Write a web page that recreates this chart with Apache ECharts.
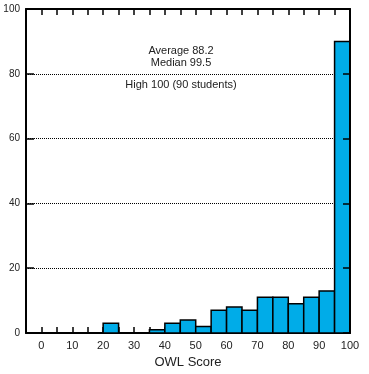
<!DOCTYPE html>
<html>
<head>
<meta charset="utf-8">
<script src="https://cdn.jsdelivr.net/npm/echarts@6/dist/echarts.min.js"></script>
<style>
html,body{margin:0;padding:0;background:#fff;}
#chart{width:369px;height:374px;}
</style>
</head>
<body>
<div id="chart"></div>
<script>
// Histogram bins (start of each 5-point bin) and student counts
var binStarts = [0,5,10,15,20,25,30,35,40,45,50,55,60,65,70,75,80,85,90,95];
var binWidth = 5;
var counts = [0,0,0,0,3,0,0,1,3,4,2,7,8,7,11,11,9,11,13,90];
var xTickLabels = [0,10,20,30,40,50,60,70,80,90,100];
var yTickLabels = [0,20,40,60,80,100];
var statLines = ['Average 88.2', 'Median 99.5'];
var highLine = 'High 100 (90 students)';
var xTitle = 'OWL Score';

var FONT = '"Liberation Sans", Arial, Helvetica, sans-serif';
var barData = binStarts.map(function(s, i){ return [s, s + binWidth, counts[i]]; });

var chart = echarts.init(document.getElementById('chart'), null, {renderer:'canvas'});
var axisCommon = {
  type:'value', min:-5, max:100, interval:5
};
chart.setOption({
  animation:false,
  grid:{left:26, right:19, top:9, bottom:41, containLabel:false},
  xAxis:[
    Object.assign({}, axisCommon, {
      position:'bottom',
      axisLine:{show:true, onZero:false, lineStyle:{color:'#000', width:2}},
      axisTick:{show:true, inside:true, length:6, lineStyle:{color:'#000', width:1.5}},
      axisLabel:{show:true, margin:7, color:'#222', fontSize:11, fontFamily:FONT,
        formatter:function(v){ return xTickLabels.indexOf(v) >= 0 ? String(v) : ''; }},
      splitLine:{show:false},
      name:xTitle, nameLocation:'middle', nameGap:22,
      nameTextStyle:{fontSize:13, color:'#222', fontFamily:FONT}
    }),
    Object.assign({}, axisCommon, {
      position:'top',
      axisLine:{show:true, onZero:false, lineStyle:{color:'#000', width:2}},
      axisTick:{show:true, inside:true, length:6, lineStyle:{color:'#000', width:1.5}},
      axisLabel:{show:false},
      splitLine:{show:false}
    })
  ],
  yAxis:[
    {
      type:'value', min:0, max:100, interval:20, position:'left',
      axisLine:{show:true, onZero:false, lineStyle:{color:'#000', width:2}},
      axisTick:{show:true, inside:true, length:8, lineStyle:{color:'#000', width:1.5}},
      axisLabel:{show:true, margin:6, color:'#222', fontSize:10, fontFamily:FONT,
        formatter:function(v){ return yTickLabels.indexOf(v) >= 0 ? String(v) : ''; }},
      splitLine:{show:true, lineStyle:{color:'#000', width:1, type:[1,1]}}
    },
    {
      type:'value', min:0, max:100, interval:20, position:'right', z:10,
      axisLine:{show:true, onZero:false, lineStyle:{color:'#000', width:2}},
      axisTick:{show:true, inside:true, length:7, lineStyle:{color:'#000', width:1.5}},
      axisLabel:{show:false},
      splitLine:{show:false}
    }
  ],
  series:[{
    type:'custom',
    xAxisIndex:0, yAxisIndex:0,
    z:2,
    data:barData,
    renderItem:function(params, api){
      var c = api.value(2);
      if (!c) return null;
      var p0 = api.coord([api.value(0), c]);
      var p1 = api.coord([api.value(1), 0]);
      return {
        type:'rect',
        shape:{x:p0[0], y:p0[1], width:p1[0]-p0[0], height:p1[1]-p0[1]},
        style:{fill:'#00ACE8', stroke:'#000', lineWidth:1.5}
      };
    }
  }],
  graphic:[
    {type:'text', style:{text:statLines.join('\n'), x:181, y:45, fill:'#222', font:'11px ' + FONT, align:'center', lineHeight:12}},
    {type:'text', style:{text:highLine, x:181, y:79, fill:'#222', font:'11px ' + FONT, align:'center'}}
  ]
});
</script>
</body>
</html>
